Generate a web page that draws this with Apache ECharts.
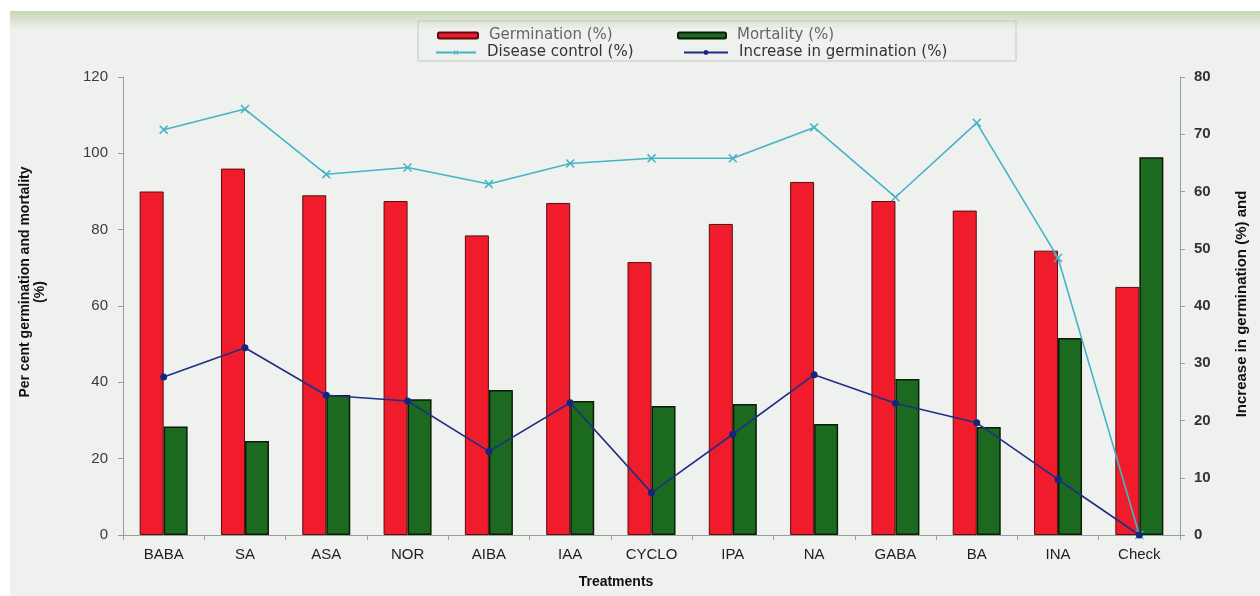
<!DOCTYPE html>
<html>
<head>
<meta charset="utf-8">
<title>Treatments: germination, mortality and disease control</title>
<script src="https://cdn.jsdelivr.net/npm/echarts@6/dist/echarts.min.js"></script>
<style>
  html, body { margin: 0; padding: 0; background: #eef1ed; }
  #chart { width: 1260px; height: 596px; }
</style>
</head>
<body>
<div id="chart"></div>
<script>
// Treatments along the x axis
const categories = ['BABA', 'SA', 'ASA', 'NOR', 'AIBA', 'IAA', 'CYCLO', 'IPA', 'NA', 'GABA', 'BA', 'INA', 'Check'];

// Left axis (per cent)
const germination = [90, 96, 89, 87.5, 78.5, 87, 71.5, 81.5, 92.5, 87.5, 85, 74.5, 65];
const mortality   = [28.4, 24.6, 36.7, 35.6, 38, 35.1, 33.8, 34.3, 29.1, 40.9, 28.3, 51.6, 99];

// Right axis (per cent)
const diseaseControl = [70.8, 74.4, 63, 64.2, 61.3, 64.9, 65.8, 65.8, 71.2, 59, 72, 48.4, 0];
const increaseGerm   = [27.6, 32.7, 24.4, 23.4, 14.6, 23.1, 7.4, 17.6, 28, 23, 19.6, 9.7, 0];

// Tick settings
const leftTicks = { min: 0, max: 120, interval: 20 };
const rightTicks = { min: 0, max: 80, interval: 10 };

const FONT = 'Liberation Sans, Arial, sans-serif';
const WIDE = 'DejaVu Sans, Verdana, sans-serif';
const crossPath = 'path://M0,1.2L1.2,0L5,3.8L8.8,0L10,1.2L6.2,5L10,8.8L8.8,10L5,6.2L1.2,10L0,8.8L3.8,5Z';

const chart = echarts.init(document.getElementById('chart'), null, { renderer: 'canvas' });

function legendAt(name, left, top, w, color) {
  return {
    data: [name],
    left: left, top: top,
    itemWidth: w, itemHeight: 6,
    itemGap: 0,
    textStyle: { fontFamily: WIDE, fontSize: 15, color: color, padding: [0, 0, 0, 6] },
    selectedMode: false
  };
}

const option = {
  backgroundColor: '#eef1ed',
  animation: false,
  grid: { left: 123, right: 80, top: 77, bottom: 61 },
  legend: [
    legendAt('Germination (%)', 432, 23, 40, '#666'),
    legendAt('Mortality (%)', 672, 23, 48, '#666'),
    legendAt('Disease control (%)', 430, 40, 40, '#333'),
    legendAt('Increase in germination (%)', 678, 40, 44, '#333')
  ],
  xAxis: {
    type: 'category',
    data: categories,
    axisLine: { lineStyle: { color: '#9a9e9a', width: 1 } },
    axisTick: { show: true, length: 5, lineStyle: { color: '#9a9e9a' } },
    axisLabel: { fontFamily: FONT, fontSize: 15, color: '#1e1e1e', margin: 12 }
  },
  yAxis: [
    {
      type: 'value',
      min: leftTicks.min, max: leftTicks.max, interval: leftTicks.interval,
      position: 'left',
      splitLine: { show: false },
      axisLine: { show: true, lineStyle: { color: '#9a9e9a' } },
      axisTick: { show: true, length: 5, lineStyle: { color: '#9a9e9a' } },
      axisLabel: { fontFamily: FONT, fontSize: 15, color: '#3a3a3a', margin: 15 }
    },
    {
      type: 'value',
      min: rightTicks.min, max: rightTicks.max, interval: rightTicks.interval,
      position: 'right',
      splitLine: { show: false },
      axisLine: { show: true, lineStyle: { color: '#9a9e9a' } },
      axisTick: { show: true, length: 5, lineStyle: { color: '#9a9e9a' } },
      axisLabel: { fontFamily: FONT, fontSize: 15, fontWeight: 'bold', color: '#333', margin: 14 }
    }
  ],
  series: [
    {
      name: 'Germination (%)',
      type: 'bar',
      yAxisIndex: 0,
      data: germination,
      barWidth: 24,
      barGap: '0%',
      itemStyle: { color: '#f01c2c', borderColor: '#5a0c10', borderWidth: 1 },
      z: 2
    },
    {
      name: 'Mortality (%)',
      type: 'bar',
      yAxisIndex: 0,
      data: mortality,
      barWidth: 24,
      barGap: '0%',
      itemStyle: { color: '#1c6a20', borderColor: '#0a1c0a', borderWidth: 1.5 },
      z: 2
    },
    {
      name: 'Disease control (%)',
      type: 'line',
      yAxisIndex: 1,
      data: diseaseControl,
      symbol: crossPath,
      symbolSize: 9,
      itemStyle: { color: '#44b4c6' },
      lineStyle: { color: '#44b4c6', width: 1.6 },
      z: 4
    },
    {
      name: 'Increase in germination (%)',
      type: 'line',
      yAxisIndex: 1,
      data: increaseGerm,
      symbol: 'circle',
      symbolSize: 7,
      itemStyle: { color: '#16267e' },
      lineStyle: { color: '#1e2f86', width: 1.6 },
      z: 5
    }
  ],
  graphic: [
    // paper edge strip along the top
    { type: 'rect', z: -5, shape: { x: 0, y: 0, width: 1260, height: 11 }, style: { fill: '#ffffff' } },
    {
      type: 'rect', z: -5, shape: { x: 10, y: 11, width: 1250, height: 17 },
      style: {
        fill: new echarts.graphic.LinearGradient(0, 0, 0, 1, [
          { offset: 0, color: '#c9d6b6' },
          { offset: 1, color: '#eaefe6' }
        ])
      }
    },
    { type: 'rect', z: -5, shape: { x: 0, y: 11, width: 10, height: 585 }, style: { fill: '#ffffff' } },
    // legend frame
    {
      type: 'rect', z: 1, shape: { x: 418, y: 21, width: 598, height: 40 },
      style: { fill: 'rgba(0,0,0,0)', stroke: '#c4c8c4', lineWidth: 1 }
    },
    // axis titles
    {
      type: 'text', z: 10, x: 25, y: 282, rotation: Math.PI / 2,
      style: { text: 'Per cent germination and mortality', font: 'bold 14px ' + FONT, fill: '#111', align: 'center', verticalAlign: 'middle' }
    },
    {
      type: 'text', z: 10, x: 40, y: 292, rotation: Math.PI / 2,
      style: { text: '(%)', font: 'bold 14px ' + FONT, fill: '#111', align: 'center', verticalAlign: 'middle' }
    },
    {
      type: 'text', z: 10, x: 1242, y: 304, rotation: Math.PI / 2,
      style: { text: 'Increase in germination (%) and', font: 'bold 15px ' + FONT, fill: '#111', align: 'center', verticalAlign: 'middle' }
    },
    {
      type: 'text', z: 10, x: 616, y: 582,
      style: { text: 'Treatments', font: 'bold 14px ' + FONT, fill: '#111', align: 'center', verticalAlign: 'middle' }
    }
  ]
};

chart.setOption(option);
</script>
</body>
</html>
